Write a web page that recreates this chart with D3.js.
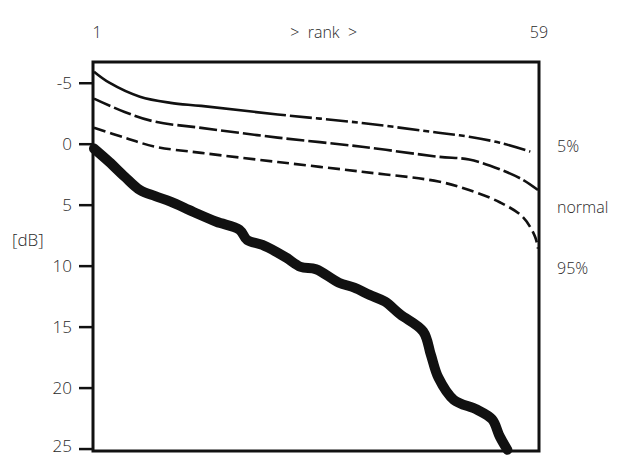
<!DOCTYPE html>
<html>
<head>
<meta charset="utf-8">
<script src="https://cdn.jsdelivr.net/npm/d3@7"></script>
<style>
  body { margin: 0; background: #fff; }
  svg text { font-family: "Open Sans", "Noto Sans", sans-serif; font-weight: 300; fill: #2a2a2a; }
</style>
</head>
<body>
<script>
// observed level differences, sorted by rank
var obsRank = [1, 3, 5, 7, 9, 11, 14, 17, 20, 21, 23, 26, 28, 30, 33, 35, 37, 39, 41, 44, 45, 46, 48, 51, 53, 54, 55];
var obsDb = [0.4, 1.5, 2.7, 3.8, 4.3, 4.75, 5.6, 6.4, 7.05, 7.9, 8.3, 9.3, 10.1, 10.3, 11.4, 11.8, 12.4, 12.95, 14.0, 15.4, 17.3, 19.2, 21.0, 21.8, 22.6, 24.0, 25.1];

// reference curves
var p5Rank = [1, 3, 7, 11, 15, 25, 36, 46, 50, 54, 58];
var p5Db = [-5.9, -5.0, -3.85, -3.35, -3.1, -2.4, -1.7, -0.9, -0.57, -0.08, 0.65];
var normRank = [1, 5, 9, 15, 25, 36, 46, 50, 54, 57, 59];
var normDb = [-3.7, -2.6, -1.8, -1.3, -0.5, 0.25, 1.07, 1.3, 2.1, 2.95, 3.8];
var p95Rank = [1, 5, 9, 15, 25, 36, 46, 50, 54, 57, 58.6, 59];
var p95Db = [-1.3, -0.5, 0.25, 0.75, 1.5, 2.3, 3.1, 3.8, 4.8, 6.0, 7.6, 8.6];

var curveNames = ["5%", "normal", "95%"];
var yTicks = [-5, 0, 5, 10, 15, 20, 25];
var rankEnds = [1, 59];

var W = 618, H = 457;
var svg = d3.select("body").append("svg")
  .attr("width", W)
  .attr("height", H);

var x = d3.scaleLinear().domain([1, 59]).range([94, 538]);
var y = d3.scaleLinear().domain([-6.7, 25.2]).range([62, 451]);

var line = d3.line()
  .x(function(d) { return x(d[0]); })
  .y(function(d) { return y(d[1]); })
  .curve(d3.curveCatmullRom.alpha(0.5));

function pairs(a, b) {
  return a.map(function(v, i) { return [v, b[i]]; });
}

// frame
svg.append("rect")
  .attr("x", x(1) - 1)
  .attr("y", y(-6.7))
  .attr("width", x(59) - x(1) + 2)
  .attr("height", y(25.2) - y(-6.7))
  .attr("fill", "none")
  .attr("stroke", "#111")
  .attr("stroke-width", 3);

// y axis, plain hyphen for negatives like the original
var yAxis = d3.axisLeft(y).tickValues(yTicks).tickSize(14).tickPadding(7)
  .tickFormat(function(d) { return String(d); });
var ga = svg.append("g")
  .attr("transform", "translate(" + (x(1) - 1) + ",0)")
  .call(yAxis);
ga.select(".domain").remove();
ga.selectAll(".tick line").attr("stroke", "#111").attr("stroke-width", 2.5);
ga.selectAll(".tick text")
  .style("font-size", "17px")
  .attr("dy", "0.33em")
  .attr("y", function(d) { return d == 25 ? -3 : 0; }); // keep last label inside the page

svg.append("text")
  .attr("x", 12)
  .attr("y", 246)
  .style("font-size", "17px")
  .text("[dB]");

// rank labels across the top
svg.selectAll(".rank")
  .data(rankEnds)
  .enter().append("text")
  .attr("class", "rank")
  .attr("x", function(d) { return x(d) + (d == 1 ? 3 : 1); })
  .attr("y", 38)
  .attr("text-anchor", "middle")
  .style("font-size", "16px")
  .text(function(d) { return d; });

svg.append("text")
  .attr("x", x(31))
  .attr("y", 38)
  .attr("text-anchor", "middle")
  .style("font-size", "16px")
  .style("white-space", "pre")
  .text(">  rank  >");

// reference curves
var refs = [
  { data: pairs(p5Rank, p5Db), dash: "200,4,22,4,6,4,22,4,6,4,22,4,6,4,22,4,6,4,22,4,6,4,22,4,6,4,22,4,6,4" },
  { data: pairs(normRank, normDb), dash: "18,4" },
  { data: pairs(p95Rank, p95Db), dash: "12,5" }
];
svg.selectAll(".ref")
  .data(refs)
  .enter().append("path")
  .attr("class", "ref")
  .attr("d", function(d) { return line(d.data); })
  .attr("fill", "none")
  .attr("stroke", "#111")
  .attr("stroke-width", 2.6)
  .attr("stroke-dasharray", function(d) { return d.dash; });

// observed curve
svg.append("path")
  .attr("d", line(pairs(obsRank, obsDb)))
  .attr("fill", "none")
  .attr("stroke", "#111")
  .attr("stroke-width", 10)
  .attr("stroke-linecap", "round")
  .attr("stroke-linejoin", "round");

// curve labels on the right
svg.selectAll(".lab")
  .data(curveNames)
  .enter().append("text")
  .attr("class", "lab")
  .attr("x", 557)
  .attr("y", function(d, i) { return y(yTicks[i + 1]) + 3; })
  .attr("dy", "0.35em")
  .style("font-size", "16px")
  .text(function(d) { return d; });
</script>
</body>
</html>
